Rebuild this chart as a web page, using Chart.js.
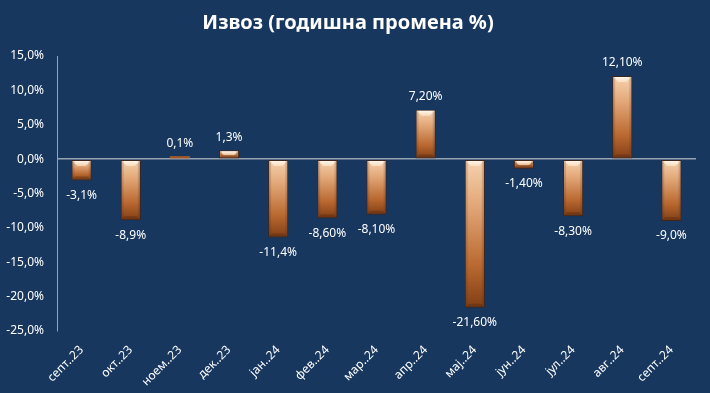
<!DOCTYPE html>
<html>
<head>
<meta charset="utf-8">
<script src="https://cdn.jsdelivr.net/npm/chart.js@4"></script>
<style>
  html, body { margin: 0; padding: 0; background: #17375e; }
  #wrap { width: 710px; height: 393px; }
</style>
</head>
<body>
<div id="wrap"><canvas id="c" width="710" height="393"></canvas></div>
<script>
const categories = ["септ..23", "окт..23", "ноем..23", "дек..23", "јан..24", "фев..24", "мар..24", "апр..24", "мај..24", "јун..24", "јул..24", "авг..24", "септ..24"];
const values = [-3.1, -8.9, 0.1, 1.3, -11.4, -8.6, -8.1, 7.2, -21.6, -1.4, -8.3, 12.1, -9.0];
const valueLabels = ["-3,1%", "-8,9%", "0,1%", "1,3%", "-11,4%", "-8,60%", "-8,10%", "7,20%", "-21,60%", "-1,40%", "-8,30%", "12,10%", "-9,0%"];
const yMin = -25, yMax = 15, yStep = 5;
const titleText = "Извоз (годишна промена %)";

const FONT = "'Noto Sans', 'DejaVu Sans', sans-serif";

function barGradient(ctx) {
  const chart = ctx.chart;
  const y = chart.scales && chart.scales.y;
  if (ctx.type !== 'data' || !y || !chart.chartArea) return '#c47a45';
  const v = values[ctx.dataIndex];
  const top = y.getPixelForValue(Math.max(v, 0));
  const bot = y.getPixelForValue(Math.min(v, 0));
  if (bot - top < 3) return '#a0582a';
  const g = chart.ctx.createLinearGradient(0, top, 0, bot);
  g.addColorStop(0, '#f6d3b0');
  g.addColorStop(0.3, '#e3a97a');
  g.addColorStop(0.72, '#b96830');
  g.addColorStop(1, '#803e15');
  return g;
}

const bevelPlugin = {
  id: 'bevel',
  afterDatasetsDraw(chart) {
    const c = chart.ctx;
    const meta = chart.getDatasetMeta(0);
    c.save();
    meta.data.forEach((el, i) => {
      const top = Math.min(el.y, el.base);
      const bot = Math.max(el.y, el.base);
      const h = bot - top;
      if (h < 4) return;
      const l = el.x - el.width / 2, r = el.x + el.width / 2;
      const d = Math.min(5, h / 2);
      const g = c.createLinearGradient(0, top, 0, top + d);
      g.addColorStop(0, 'rgba(255,255,255,1)');
      g.addColorStop(1, 'rgba(255,240,220,0.6)');
      c.fillStyle = g;
      c.beginPath();
      c.moveTo(l + 1, top + 1);
      c.lineTo(r - 1, top + 1);
      c.lineTo(r - 1 - d, top + 1 + d);
      c.lineTo(l + 1 + d, top + 1 + d);
      c.closePath();
      c.fill();
      c.fillStyle = 'rgba(70,30,5,0.3)';
      c.beginPath();
      c.moveTo(l + 1, bot - 1);
      c.lineTo(r - 1, bot - 1);
      c.lineTo(r - 1 - d * 0.6, bot - 1 - d * 0.6);
      c.lineTo(l + 1 + d * 0.6, bot - 1 - d * 0.6);
      c.closePath();
      c.fill();
      c.fillStyle = 'rgba(90,40,10,0.18)';
      c.fillRect(l + 1, top + 1, 2, h - 2);
      c.fillRect(r - 3, top + 1, 2, h - 2);
    });
    c.restore();
  }
};

const labelPlugin = {
  id: 'valueLabels',
  afterDatasetsDraw(chart) {
    const c = chart.ctx;
    const meta = chart.getDatasetMeta(0);
    c.save();
    c.font = "12px " + FONT;
    c.fillStyle = '#ffffff';
    c.textAlign = 'center';
    c.textBaseline = 'middle';
    meta.data.forEach((el, i) => {
      const v = values[i];
      const y = v >= 0 ? el.y - 13 : el.y + 15;
      c.fillText(valueLabels[i], el.x, y);
    });
    c.restore();
  }
};

new Chart(document.getElementById('c'), {
  type: 'bar',
  data: {
    labels: categories,
    datasets: [{
      data: values,
      backgroundColor: barGradient,
      borderColor: 'rgba(70,35,15,0.85)',
      borderWidth: (ctx) => (ctx.type === 'data' && Math.abs(values[ctx.dataIndex]) < 0.5) ? 0 : 1,
      borderSkipped: false,
      minBarLength: 3,
      barPercentage: 0.41,
      categoryPercentage: 1.0
    }]
  },
  options: {
    responsive: false,
    animation: false,
    devicePixelRatio: 1,
    layout: { padding: { left: 0, right: 14, top: 0, bottom: 0 } },
    plugins: {
      legend: { display: false },
      tooltip: { enabled: false },
      title: {
        display: true,
        text: titleText,
        color: '#ffffff',
        font: { family: FONT, size: 20, weight: 'bold' },
        padding: { top: 11, bottom: 21 }
      }
    },
    scales: {
      x: {
        grid: { display: false },
        border: { display: false },
        ticks: {
          color: '#ffffff',
          font: { family: FONT, size: 12 },
          minRotation: 45,
          maxRotation: 45,
          padding: 4,
          autoSkip: false
        },
        afterFit(scale) { scale.height = 62; }
      },
      y: {
        min: yMin,
        max: yMax,
        border: { display: true, color: '#9aa3b0', width: 1 },
        grid: {
          drawTicks: false,
          color: (ctx) => (ctx.tick && ctx.tick.value === 0) ? '#9aa3b0' : 'rgba(0,0,0,0)',
          lineWidth: 1.5
        },
        ticks: {
          stepSize: yStep,
          color: '#ffffff',
          font: { family: FONT, size: 12 },
          padding: 13,
          callback: (v) => v.toFixed(1).replace('.', ',') + '%'
        },
        afterFit(scale) { scale.width = 57; }
      }
    }
  },
  plugins: [bevelPlugin, labelPlugin]
});
</script>
</body>
</html>
